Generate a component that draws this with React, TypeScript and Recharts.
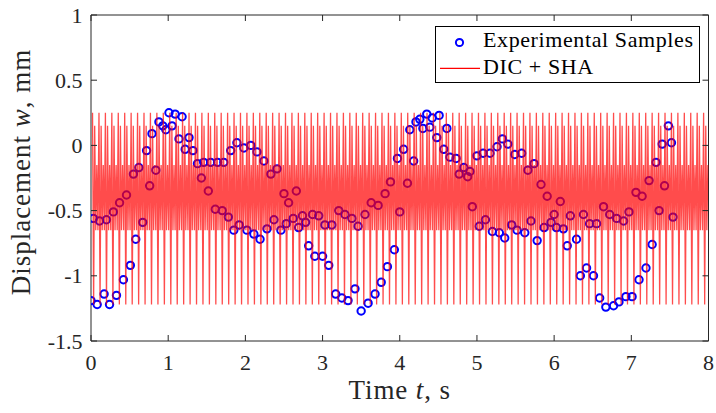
import React from "react";
import {
  ComposedChart,
  Scatter,
  Line,
  XAxis,
  YAxis,
  ReferenceArea,
  Legend,
} from "recharts";

const sampleTime = [
  0.0, 0.03, 0.08, 0.11, 0.17, 0.2, 0.24, 0.29, 0.33, 0.37, 0.42, 0.46, 0.51,
  0.55, 0.58, 0.62, 0.67, 0.72, 0.76, 0.79, 0.84, 0.88, 0.93, 0.97, 1.01, 1.05,
  1.09, 1.14, 1.18, 1.22, 1.27, 1.32, 1.38, 1.43, 1.46, 1.52, 1.55, 1.61, 1.64,
  1.7, 1.72, 1.78, 1.81, 1.85, 1.89, 1.92, 1.98, 2.02, 2.07, 2.11, 2.15, 2.19,
  2.24, 2.28, 2.33, 2.37, 2.41, 2.46, 2.5, 2.53, 2.56, 2.62, 2.66, 2.69, 2.74,
  2.78, 2.82, 2.87, 2.9, 2.95, 3.0, 3.03, 3.08, 3.12, 3.17, 3.21, 3.25, 3.29,
  3.33, 3.38, 3.42, 3.46, 3.5, 3.55, 3.59, 3.63, 3.68, 3.72, 3.76, 3.81, 3.84,
  3.88, 3.93, 3.97, 4.0, 4.05, 4.1, 4.13, 4.18, 4.21, 4.26, 4.3, 4.35, 4.39,
  4.42, 4.48, 4.51, 4.57, 4.61, 4.65, 4.73, 4.77, 4.83, 4.88, 4.91, 4.94, 5.0,
  5.03, 5.08, 5.11, 5.17, 5.2, 5.26, 5.29, 5.33, 5.36, 5.4, 5.45, 5.49, 5.52,
  5.58, 5.62, 5.66, 5.7, 5.74, 5.78, 5.83, 5.87, 5.91, 5.96, 6.0, 6.03, 6.08,
  6.12, 6.17, 6.21, 6.29, 6.34, 6.38, 6.42, 6.46, 6.51, 6.55, 6.59, 6.64, 6.67,
  6.72, 6.77, 6.81, 6.84, 6.9, 6.93, 6.97, 7.01, 7.06, 7.1, 7.14, 7.19, 7.23,
  7.27, 7.32, 7.36, 7.4, 7.43, 7.48, 7.52, 7.54,
];
const sampleDisp = [
  -1.19, -0.56, -1.22, -0.58, -1.14, -0.57, -1.22, -0.51, -1.15, -0.44, -1.03,
  -0.38, -0.92, -0.22, -0.72, -0.17, -0.59, -0.04, -0.31, 0.09, -0.19, 0.18,
  0.15, 0.12, 0.25, 0.15, 0.24, 0.05, 0.22, -0.03, 0.06, -0.04, -0.14, -0.25,
  -0.13, -0.35, -0.13, -0.49, -0.13, -0.5, -0.13, -0.55, -0.04, -0.65, 0.02,
  -0.61, -0.02, -0.65, 0.0, -0.68, -0.05, -0.72, -0.12, -0.64, -0.22, -0.57,
  -0.18, -0.65, -0.37, -0.6, -0.44, -0.56, -0.35, -0.63, -0.54, -0.59, -0.77,
  -0.53, -0.85, -0.54, -0.85, -0.61, -0.92, -0.61, -1.14, -0.5, -1.17, -0.53,
  -1.19, -0.56, -1.1, -0.62, -1.27, -0.53, -1.21, -0.44, -1.14, -0.46, -1.05,
  -0.37, -0.93, -0.28, -0.8, -0.1, -0.51, -0.03, -0.29, 0.12, -0.12, 0.18, 0.2,
  0.13, 0.24, 0.14, 0.21, 0.06, 0.23, -0.03, 0.13, -0.09, -0.1, -0.22, -0.17,
  -0.24, -0.2, -0.47, -0.08, -0.62, -0.06, -0.57, -0.06, -0.66, -0.01, -0.67,
  0.05, -0.71, 0.01, -0.61, -0.07, -0.65, -0.06, -0.67, -0.19, -0.58, -0.14,
  -0.73, -0.3, -0.63, -0.39, -0.59, -0.53, -0.63, -0.43, -0.64, -0.77, -0.54,
  -0.72, -1.0, -0.53, -0.94, -0.6, -1.0, -0.6, -1.17, -0.47, -1.24, -0.53,
  -1.23, -0.56, -1.2, -0.58, -1.16, -0.51, -1.16, -0.36, -1.03, -0.39, -0.94,
  -0.27, -0.76, -0.13, -0.5, 0.01, -0.31, 0.15, 0.02, -0.55,
];

// DIC + SHA curve: one period of the fast oscillation
const dicCycle = [0.25, -1.22, 0.15, -0.65, -0.15, -0.65];
const dicPeriod = 1 / 12;
const dicStart = 0.02;
const dicEnd = 8;

const xTicks = [0, 1, 2, 3, 4, 5, 6, 7, 8];
const yTicks = [-1.5, -1, -0.5, 0, 0.5, 1];

const samples = sampleTime.map((t, i) => ({ t, w: sampleDisp[i] }));

const dicData: { t: number; w: number }[] = [];
const dicStep = dicPeriod / dicCycle.length;
for (let k = 0; dicStart + k * dicStep <= dicEnd; k++) {
  dicData.push({ t: dicStart + k * dicStep, w: dicCycle[k % dicCycle.length] });
}

const W = 716;
const H = 413;
const PLOT = { left: 91, right: 708.5, top: 15, bottom: 341 };
const AX = "#262626";
const FONT = "'Liberation Serif', 'Times New Roman', serif";

function XTick({ x, payload }: any) {
  return (
    <g>
      <line x1={x} x2={x} y1={PLOT.bottom} y2={PLOT.bottom - 6} stroke={AX} />
      <line x1={x} x2={x} y1={PLOT.top} y2={PLOT.top + 6} stroke={AX} />
      <text x={x} y={370} textAnchor="middle" fontFamily={FONT} fontSize={22} fill={AX}>
        {payload.value}
      </text>
    </g>
  );
}

function YTick({ y, payload }: any) {
  return (
    <g>
      <line x1={PLOT.left} x2={PLOT.left + 6} y1={y} y2={y} stroke={AX} />
      <line x1={PLOT.right} x2={PLOT.right - 6} y1={y} y2={y} stroke={AX} />
      <text x={82.5} y={y + 7.5} textAnchor="end" fontFamily={FONT} fontSize={22} fill={AX}>
        {payload.value}
      </text>
    </g>
  );
}

function XTitle() {
  return (
    <text
      x={(PLOT.left + PLOT.right) / 2}
      y={399}
      textAnchor="middle"
      fontFamily={FONT}
      fontSize={27}
      letterSpacing={0.9}
      fill={AX}
    >
      Time <tspan fontStyle="italic">t</tspan>, s
    </text>
  );
}

function YTitle() {
  return (
    <text
      transform={`translate(30, ${(PLOT.top + PLOT.bottom) / 2 - 6}) rotate(-90)`}
      textAnchor="middle"
      fontFamily={FONT}
      fontSize={27}
      letterSpacing={1}
      fill={AX}
    >
      Displacement <tspan fontStyle="italic">w</tspan>, mm
    </text>
  );
}

function LegendBox() {
  return (
    <svg width={265} height={57} style={{ display: "block" }}>
      <rect x={0.5} y={0.5} width={264} height={56} fill="#fff" stroke="#000" />
      <circle cx={24.5} cy={16.5} r={3.6} fill="none" stroke="#0000ff" strokeWidth={2} />
      <text x={48} y={21} fontFamily={FONT} fontSize={22} letterSpacing={0.6} fill="#000">
        Experimental Samples
      </text>
      <line x1={5} x2={45} y1={42.3} y2={42.3} stroke="#ff0000" strokeWidth={1.2} />
      <text x={48} y={47.5} fontFamily={FONT} fontSize={22} letterSpacing={0.6} fill="#000">
        DIC + SHA
      </text>
    </svg>
  );
}

export default function App() {
  return (
    <div style={{ position: "absolute", left: 0, top: 0, width: W, height: H, background: "#fff" }}>
      <ComposedChart
        width={W}
        height={H}
        margin={{ top: PLOT.top, right: W - PLOT.right, left: PLOT.left - 50, bottom: H - PLOT.bottom - 30 }}
      >
        <XAxis
          dataKey="t"
          type="number"
          domain={[0, 8]}
          ticks={xTicks}
          allowDataOverflow
          axisLine={false}
          tickLine={false}
          height={30}
          tick={<XTick />}
          label={<XTitle />}
        />
        <YAxis
          type="number"
          domain={[-1.5, 1]}
          ticks={yTicks}
          allowDataOverflow
          axisLine={false}
          tickLine={false}
          width={50}
          tick={<YTick />}
          label={<YTitle />}
        />
        <ReferenceArea x1={0} x2={8} y1={-1.5} y2={1} fill="none" stroke={AX} strokeWidth={1} />
        <Scatter
          name="Experimental Samples"
          data={samples}
          dataKey="w"
          isAnimationActive={false}
          shape={(p: any) => (
            <circle cx={p.cx} cy={p.cy} r={3.7} fill="none" stroke="#0000ff" strokeWidth={2} />
          )}
        />
        <Line
          name="DIC + SHA"
          data={dicData}
          dataKey="w"
          type="linear"
          stroke="#ff0000"
          strokeOpacity={0.7}
          strokeWidth={1.3}
          dot={false}
          activeDot={false}
          isAnimationActive={false}
          zIndex={700}
        />
        <Legend
          layout="horizontal"
          verticalAlign="middle"
          align="center"
          content={<LegendBox />}
          wrapperStyle={{ left: 435, top: 26, width: 265, height: 57 }}
        />
      </ComposedChart>
    </div>
  );
}
